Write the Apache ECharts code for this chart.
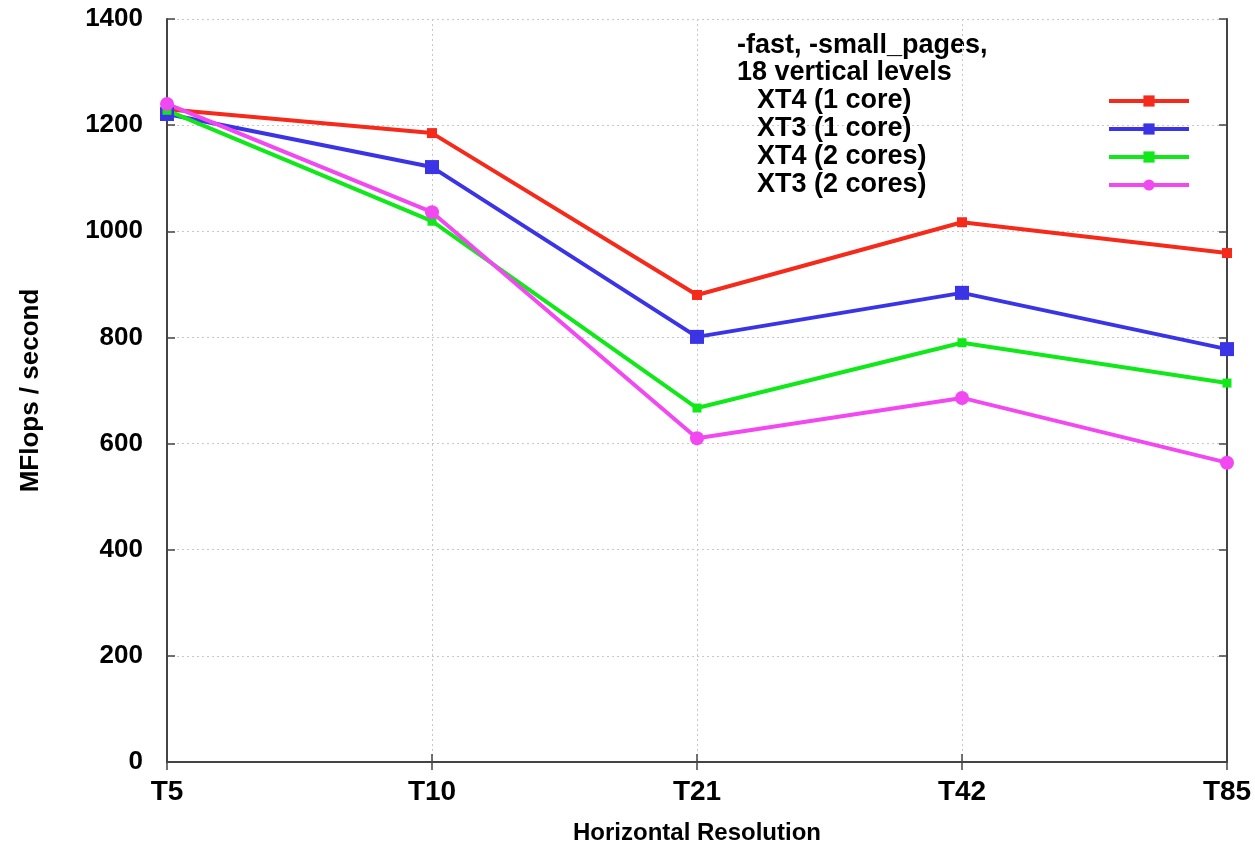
<!DOCTYPE html>
<html><head><meta charset="utf-8">
<script src="https://cdn.jsdelivr.net/npm/echarts@6/dist/echarts.min.js"></script>
<style>html,body{margin:0;padding:0;background:#fff}#c{width:1255px;height:846px}</style>
</head><body><div id="c"></div>
<script>
const categories = ['T5', 'T10', 'T21', 'T42', 'T85'];
const xt4_1core = [1230, 1185, 880, 1017, 959];
const xt3_1core = [1221, 1121, 801, 884, 778];
const xt4_2cores = [1228, 1019, 667, 790, 714];
const xt3_2cores = [1240, 1036, 610, 686, 564];
const yTicks = [0, 200, 400, 600, 800, 1000, 1200, 1400];
const seriesNames = ['XT4 (1 core)', 'XT3 (1 core)', 'XT4 (2 cores)', 'XT3 (2 cores)'];

const FONT = '"Liberation Sans", Arial, Helvetica, sans-serif';
const chart = echarts.init(document.getElementById('c'));
const axisLine = {show: true, lineStyle: {color: '#444', width: 2}};
const gridLine = {show: true, lineStyle: {color: '#c8c8c8', type: [2, 3], width: 1}};
const tick = {show: true, inside: true, length: 8, lineStyle: {color: '#444', width: 1.5}};
const mk = (name, data, color, symbol, size) => ({
  name, type: 'line', data, color,
  symbol, symbolSize: size, showSymbol: true,
  lineStyle: {width: 4, color},
  itemStyle: {color},
  z: 3
});
chart.setOption({
  animation: false,
  backgroundColor: '#fff',
  grid: {left: 167, right: 28, top: 19, bottom: 84, containLabel: false, outerBoundsMode: 'none'},
  xAxis: [{
    type: 'category', data: categories, boundaryGap: false,
    axisLine, axisTick: tick,
    splitLine: gridLine,
    axisLabel: {color: '#000', fontFamily: FONT, fontWeight: 'bold', fontSize: 28, margin: 16},
    name: 'Horizontal Resolution', nameLocation: 'middle', nameGap: 59,
    nameTextStyle: {color: '#000', fontFamily: FONT, fontWeight: 'bold', fontSize: 24}
  }, {
    type: 'category', data: categories, boundaryGap: false, position: 'top',
    axisLine, axisTick: tick, axisLabel: {show: false}, splitLine: {show: false}
  }],
  yAxis: [{
    type: 'value', min: 0, max: 1400, interval: 200,
    axisLine, axisTick: tick,
    splitLine: gridLine,
    axisLabel: {color: '#000', fontFamily: FONT, fontWeight: 'bold', fontSize: 26, margin: 24,
      formatter: v => yTicks.includes(v) ? String(v) : ''},
    name: 'MFlops / second', nameLocation: 'middle', nameGap: 123,
    nameTextStyle: {color: '#000', fontFamily: FONT, fontWeight: 'bold', fontSize: 26}
  }, {
    type: 'value', min: 0, max: 1400, interval: 200, position: 'right',
    axisLine, axisTick: tick, axisLabel: {show: false}, splitLine: {show: false}
  }],
  legend: {
    orient: 'vertical', right: 59, top: 82, align: 'right',
    itemWidth: 80, itemHeight: 14, itemGap: 0,
    data: seriesNames,
    lineStyle: {width: 4},
    formatter: n => '{t|' + n + '}',
    textStyle: {
      color: '#000', fontFamily: FONT, fontWeight: 'bold', fontSize: 27,
      rich: {t: {width: 347, height: 28, lineHeight: 28, align: 'left', color: '#000', fontFamily: FONT, fontWeight: 'bold', fontSize: 27}}
    }
  },
  graphic: [{
    type: 'text', left: 737, top: 32,
    style: {text: '-fast, -small_pages,\n18 vertical levels', fill: '#000', font: 'bold 27px ' + FONT, lineHeight: 27}
  }],
  series: [
    mk(seriesNames[0], xt4_1core, '#f52a1a', 'rect', 10),
    mk(seriesNames[1], xt3_1core, '#3a34e6', 'rect', 14),
    mk(seriesNames[2], xt4_2cores, '#10e81a', 'rect', 9),
    mk(seriesNames[3], xt3_2cores, '#f248f2', 'circle', 14)
  ]
});
</script></body></html>
